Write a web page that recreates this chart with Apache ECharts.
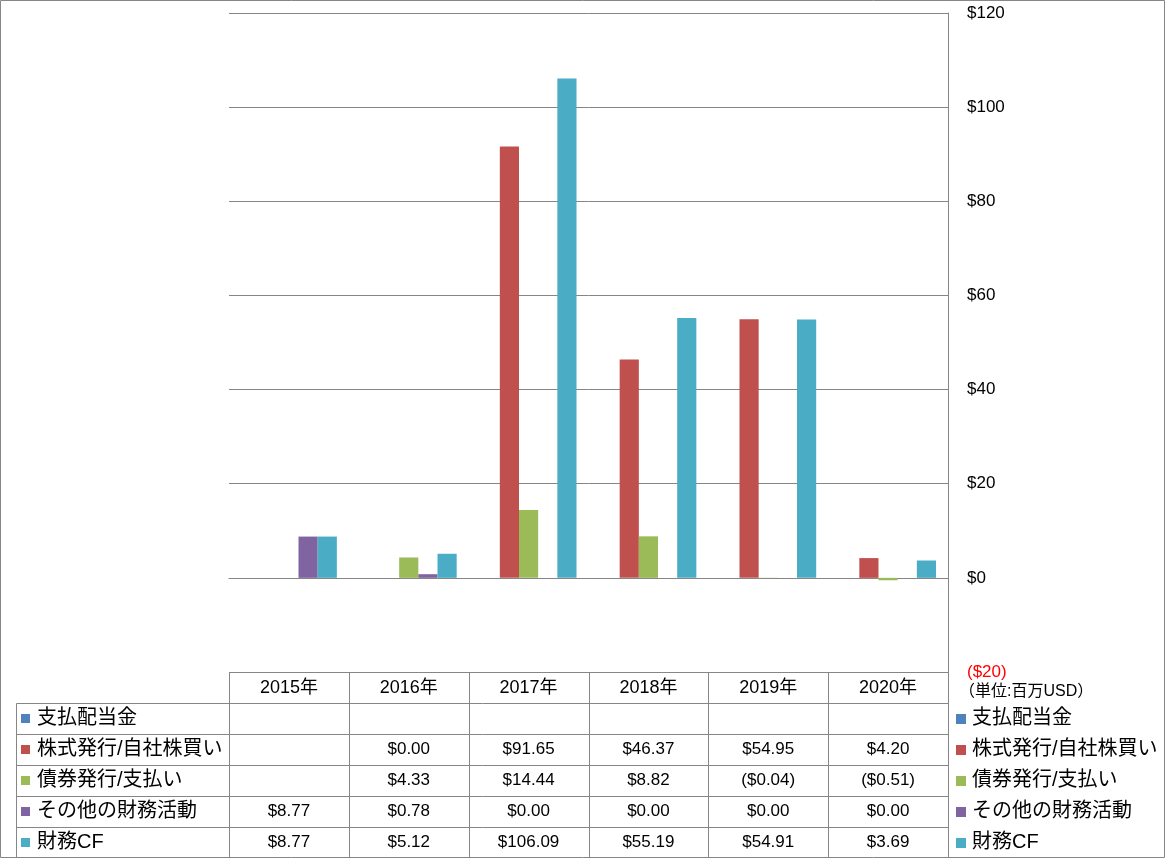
<!DOCTYPE html>
<html>
<head>
<meta charset="utf-8">
<script src="https://cdn.jsdelivr.net/npm/echarts@6/dist/echarts.min.js"></script>
<style>
html,body{margin:0;padding:0;background:#fff;}
#chart{width:1165px;height:858px;}
</style>
</head>
<body>
<div id="chart"></div>
<script>
// ---- data ----
const categories = ['2015年','2016年','2017年','2018年','2019年','2020年'];
const seriesNames = ['支払配当金','株式発行/自社株買い','債券発行/支払い','その他の財務活動','財務CF'];
const dividends = [null, null, null, null, null, null];
const stockIssue = [null, 0.00, 91.65, 46.37, 54.95, 4.20];
const debtIssue = [null, 4.33, 14.44, 8.82, -0.04, -0.51];
const otherFin = [8.77, 0.78, 0.00, 0.00, 0.00, 0.00];
const financeCF = [8.77, 5.12, 106.09, 55.19, 54.91, 3.69];
const yTicks = {min: -20, max: 120, interval: 20};
const unitLabel = '（単位:百万USD）';

const seriesData = [dividends, stockIssue, debtIssue, otherFin, financeCF];
const colors = ['#4F81BD','#C0504D','#9BBB59','#8064A2','#4BACC6'];
const gray = '#868686';
const FONT = "'Liberation Sans', 'Noto Sans CJK JP', sans-serif";

function fmtMoney(v){
  if (v === null || v === undefined) return '';
  if (v < 0) return '($' + Math.abs(v).toFixed(2) + ')';
  return '$' + v.toFixed(2);
}

const chart = echarts.init(document.getElementById('chart'), null, {renderer:'canvas'});

const option = {
  backgroundColor: '#ffffff',
  animation: false,
  textStyle: {fontFamily: FONT},
  grid: {left: 229, right: 217, top: 13, bottom: 186, containLabel: false},
  xAxis: {
    type: 'category',
    data: categories,
    boundaryGap: true,
    axisLine: {show: true, onZero: true, lineStyle: {color: gray, width: 1}},
    axisTick: {show: false},
    axisLabel: {show: false},
    splitLine: {show: false}
  },
  yAxis: {
    type: 'value',
    position: 'right',
    min: yTicks.min, max: yTicks.max, interval: yTicks.interval,
    axisLine: {show: true, lineStyle: {color: gray, width: 1}},
    axisTick: {show: false},
    splitLine: {show: true, lineStyle: {color: gray, width: 1}},
    axisLabel: {
      margin: 19,
      fontSize: 17,
      color: '#000',
      fontFamily: FONT,
      formatter: function(v){
        if (v < 0) return '{neg|($' + Math.abs(v) + ')}';
        return '$' + v;
      },
      rich: {neg: {color: '#FF0000', fontSize: 17, fontFamily: FONT}}
    }
  },
  series: seriesNames.map((name, i) => ({
    name: name,
    type: 'bar',
    data: seriesData[i].map(v => v === null ? '-' : v),
    barGap: '0%',
    barCategoryGap: '20%',
    itemStyle: {color: colors[i]}
  }))
};
chart.setOption(option);

// ---- data table drawn from the axis layout ----
function buildTable(){
  const W = chart.getWidth(), H = chart.getHeight();
  const centers = categories.map(c => chart.convertToPixel({xAxisIndex: 0}, c));
  const cw = centers[1] - centers[0];
  const xLeft = centers[0] - cw/2;
  const xRight = centers[centers.length-1] + cw/2;
  const yTop = chart.convertToPixel({yAxisIndex: 0}, yTicks.min);
  const yMax = chart.convertToPixel({yAxisIndex: 0}, yTicks.max);
  const nRows = seriesNames.length + 1;
  const rh = (H - yTop) / nRows;
  const labelLeft = 16;
  const els = [];
  const line = (x1,y1,x2,y2) => els.push({type:'line', silent:true, z:10,
    shape:{x1:Math.round(x1)+0.5,y1:Math.round(y1)+0.5,x2:Math.round(x2)+0.5,y2:Math.round(y2)+0.5},
    style:{stroke:gray, lineWidth:1}});
  // outer border
  els.push({type:'rect', silent:true, z:10, shape:{x:0.5,y:0.5,width:W-1,height:H-1},
    style:{fill:'none', stroke:gray, lineWidth:1}});
  // header top
  line(xLeft, yTop, xRight, yTop);
  // row lines
  for (let r = 1; r < nRows; r++) line(labelLeft, yTop + r*rh, xRight, yTop + r*rh);
  // verticals
  line(labelLeft, yTop + rh, labelLeft, H);
  for (let i = 0; i < categories.length; i++) line(centers[i] - cw/2, yTop, centers[i] - cw/2, H);
  line(xRight, yMax, xRight, H);
  // header texts
  categories.forEach((c, i) => els.push({type:'text', silent:true, z:11,
    style:{x:centers[i], y:yTop + rh/2 + 1, text:c, textAlign:'center', textVerticalAlign:'middle',
      font:'18px ' + FONT, fill:'#000'}}));
  // rows
  seriesNames.forEach((name, s) => {
    const cy = yTop + (s+1)*rh + rh/2;
    els.push({type:'rect', silent:true, z:11, shape:{x:21, y:Math.round(cy)-5, width:9, height:9},
      style:{fill:colors[s]}});
    els.push({type:'text', silent:true, z:11,
      style:{x:37, y:cy, text:name, textAlign:'left', textVerticalAlign:'middle', font:'20px ' + FONT, fill:'#000'}});
    seriesData[s].forEach((v, i) => els.push({type:'text', silent:true, z:11,
      style:{x:centers[i], y:cy, text:fmtMoney(v), textAlign:'center', textVerticalAlign:'middle',
        font:'17px ' + FONT, fill:'#000'}}));
    // right legend
    els.push({type:'rect', silent:true, z:11, shape:{x:xRight+8, y:Math.round(cy)-5, width:10, height:10},
      style:{fill:colors[s]}});
    els.push({type:'text', silent:true, z:11,
      style:{x:xRight+24, y:cy, text:name, textAlign:'left', textVerticalAlign:'middle', font:'20px ' + FONT, fill:'#000'}});
  });
  // unit label
  els.push({type:'text', silent:true, z:11,
    style:{x:xRight+11, y:yTop + 20, text:unitLabel, textAlign:'left', textVerticalAlign:'middle', font:'16px ' + FONT, fill:'#000'}});
  chart.setOption({graphic: els});
}
buildTable();
</script>
</body>
</html>
